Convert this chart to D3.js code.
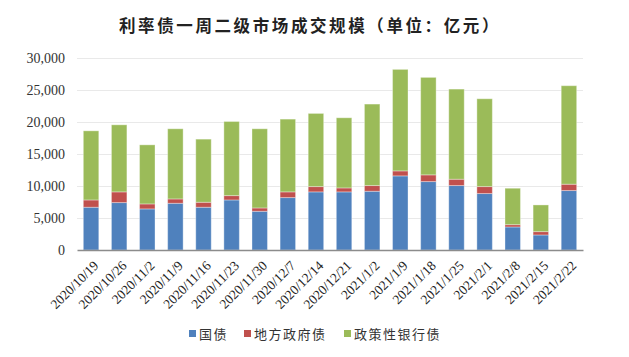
<!DOCTYPE html>
<html><head><meta charset="utf-8">
<script src="https://cdn.jsdelivr.net/npm/d3@7/dist/d3.min.js"></script>
<style>body{margin:0;background:#fff;} svg{display:block;}</style>
</head><body>
<svg id="chart" width="629" height="357"></svg>
<script>
const categories = ["2020/10/19","2020/10/26","2020/11/2","2020/11/9","2020/11/16","2020/11/23","2020/11/30","2020/12/7","2020/12/14","2020/12/21","2021/1/2","2021/1/9","2021/1/18","2021/1/25","2021/2/1","2021/2/8","2021/2/15","2021/2/22"];
const guozhai = [6680,7410,6420,7300,6680,7820,6050,8190,9080,9080,9180,11580,10690,10070,8820,3600,2350,9290];
const difang = [1140,1670,780,680,780,680,520,890,830,620,890,780,1050,990,1090,360,520,990];
const zhengce = [10800,10480,9230,10960,9860,11580,12370,11370,11430,10960,12730,15860,15230,14080,13720,5690,4170,15390];
const seriesNames = ["国债","地方政府债","政策性银行债"];
const colors = ["#4F81BD","#C0504D","#9BBB59"];
const yTicks = [0,5000,10000,15000,20000,25000,30000];
const title = "利率债一周二级市场成交规模（单位：亿元）";

const svg = d3.select("#chart");
const x = d3.scaleBand().domain(categories).range([77,583]).paddingInner(0.45).paddingOuter(0.225);
const y = d3.scaleLinear().domain([0,30000]).range([250,58]);

svg.append("text").attr("x",310).attr("y",32).attr("text-anchor","middle")
  .attr("font-family","'Noto Sans CJK SC'").attr("font-weight","bold").attr("font-size",16.5)
  .attr("letter-spacing","2.6px").attr("fill","#222").text(title);

// gridlines
svg.append("g").selectAll("line").data(yTicks.filter(d=>d>0)).join("line")
  .attr("x1",77).attr("x2",583).attr("y1",d=>Math.round(y(d))+0.5).attr("y2",d=>Math.round(y(d))+0.5)
  .attr("stroke","#e9e9e9").attr("stroke-width",1);

// y labels
const yAxis = d3.axisLeft(y).tickValues(yTicks).tickFormat(d3.format(",")).tickSize(0).tickPadding(0);
const ya = svg.append("g").attr("transform","translate(65,0)").call(yAxis);
ya.select(".domain").remove();
ya.selectAll("text").attr("font-family","'Liberation Serif'").attr("font-size",14).attr("fill","#333");

// stacked bars
const rows = categories.map((c,i)=>({cat:c, a:guozhai[i], b:difang[i], c:zhengce[i]}));
const stack = d3.stack().keys(["a","b","c"])(rows);
svg.append("g").selectAll("g").data(stack).join("g").attr("fill",(d,i)=>colors[i])
  .selectAll("rect").data(d=>d).join("rect")
  .attr("x",d=>x(d.data.cat)).attr("width",x.bandwidth())
  .attr("y",d=>y(d[1])).attr("height",d=>y(d[0])-y(d[1]))
  .attr("stroke","rgba(255,255,255,0.35)").attr("stroke-width",1);

// x axis
const xAxis = d3.axisBottom(x).tickSize(0).tickPadding(0);
const xa = svg.append("g").attr("transform","translate(0,250)").call(xAxis);
xa.select(".domain").attr("stroke","#8c8c8c").attr("stroke-width",1.3);
xa.selectAll("text").attr("font-family","'Liberation Serif'").attr("font-size",13.5).attr("fill","#222")
  .attr("text-anchor","end").attr("dy","0.35em")
  .attr("transform","translate(5,13) rotate(-45)");

// legend
const legX = [189,244,344];
const lg = svg.append("g");
seriesNames.forEach((n,i)=>{
  lg.append("rect").attr("x",legX[i]).attr("y",330).attr("width",7).attr("height",7).attr("fill",colors[i]);
  lg.append("text").attr("x",legX[i]+10).attr("y",338.5).attr("font-family","'Noto Sans CJK SC'")
    .attr("font-size",13).attr("letter-spacing","1.5px").attr("fill","#333").text(n);
});
</script>
</body></html>
